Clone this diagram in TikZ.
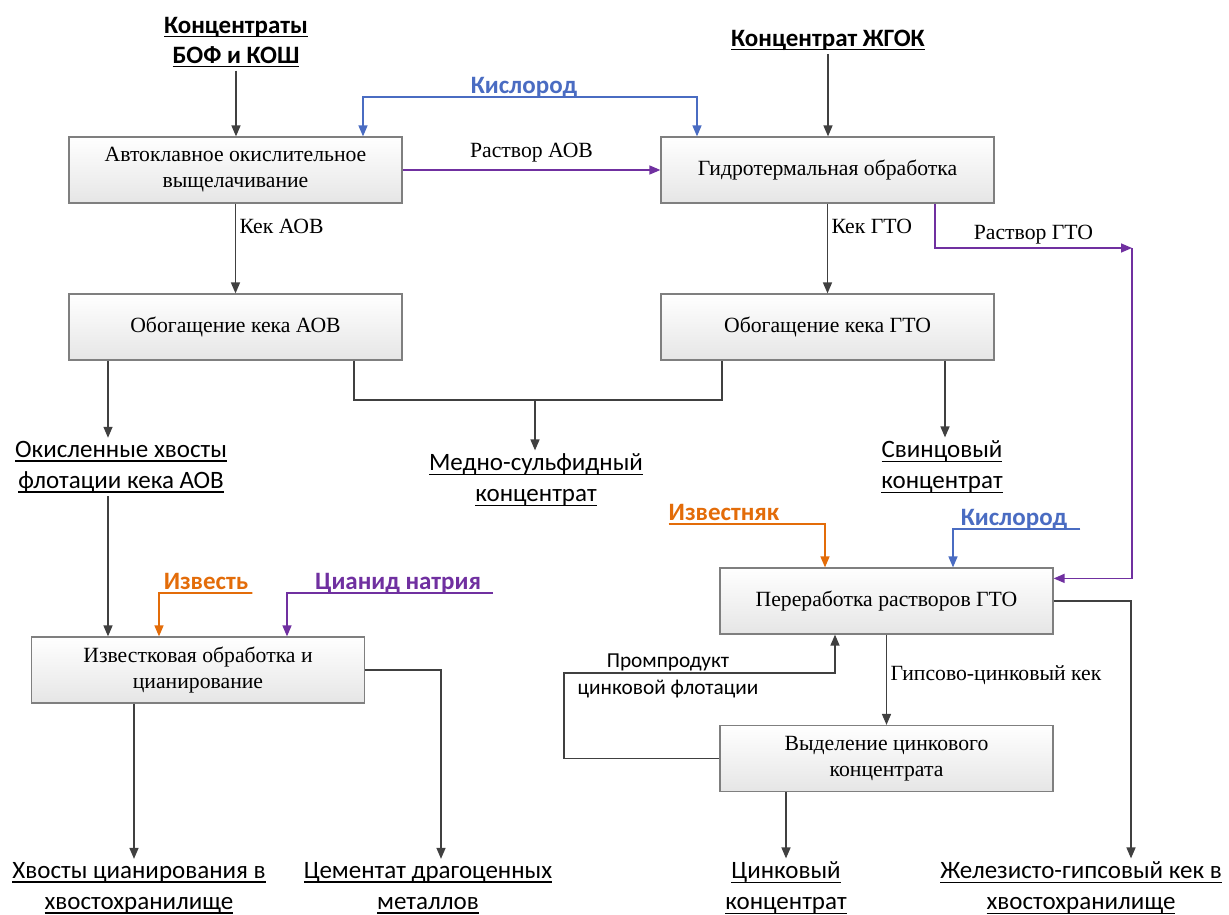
\documentclass[tikz,border=0pt]{standalone}
\usepackage{fontspec}
\setmainfont{Liberation Serif}
\newfontfamily\labfont{Carlito}
\usetikzlibrary{arrows.meta}
\definecolor{linegray}{HTML}{404040}
\definecolor{boxgray}{HTML}{7F7F7F}
\definecolor{oxblue}{HTML}{4A6CC2}
\definecolor{solpurple}{HTML}{7030A0}
\definecolor{limeorange}{HTML}{E36C09}
% underlined label text
\newcommand{\ulbl}[1]{\leavevmode\setbox0\hbox{#1}\rlap{\rule[-4.2pt]{\wd0}{1.5pt}}\box0}
\begin{document}
\begin{tikzpicture}[x=1pt,y=-1pt,
    box/.style={draw=boxgray,line width=1.2pt,top color=white,bottom color=black!10,
      minimum width=333pt,minimum height=66pt,align=center,
      font=\fontsize{21.7}{26}\selectfont},
    flow/.style={draw=linegray,line width=1.5pt,-{Triangle[length=11pt,width=9pt]}},
    outlbl/.style={font=\labfont\fontsize{25}{31}\selectfont,align=center},
    srclbl/.style={font=\labfont\bfseries\fontsize{25}{30}\selectfont,align=center},
    inlbl/.style={font=\labfont\bfseries\fontsize{25}{30}\selectfont,
      inner xsep=0pt,inner ysep=0pt,text depth=3.5pt,anchor=south},
    note/.style={font=\fontsize{21.7}{26}\selectfont},
    smallnote/.style={font=\labfont\fontsize{21.3}{27}\selectfont,align=center}]
  \useasboundingbox (0,0) rectangle (1229,915);
  % process boxes
  \node[box] (aov) at (235.5,170) {Автоклавное окислительное\\выщелачивание};
  \node[box] (gto) at (827.5,170) {Гидротермальная обработка};
  \node[box] (obaov) at (235.5,327) {Обогащение кека АОВ};
  \node[box] (obgto) at (827.5,327) {Обогащение кека ГТО};
  \node[box] (pergto) at (886.5,601) {Переработка растворов ГТО};
  \node[box] (vydzn) at (886.5,758.5) {Выделение цинкового\\концентрата};
  \node[box] (izvcian) at (198,670) {Известковая обработка и\\цианирование};
  % feeds and products
  \node[srclbl] (bof) at (236,42) {\ulbl{Концентраты}\\\ulbl{БОФ и КОШ}};
  \node[srclbl] (zhgok) at (828,40) {\ulbl{Концентрат ЖГОК}};
  \node[outlbl] (okhv) at (121,467) {\ulbl{Окисленные хвосты}\\\ulbl{флотации кека АОВ}};
  \node[outlbl] (medsf) at (536,480) {\ulbl{Медно-сульфидный}\\\ulbl{концентрат}};
  \node[outlbl] (svin) at (942,467) {\ulbl{Свинцовый}\\\ulbl{концентрат}};
  \node[outlbl] (hvcian) at (139,888) {\ulbl{Хвосты цианирования в}\\\ulbl{хвостохранилище}};
  \node[outlbl] (cement) at (428,888) {\ulbl{Цементат драгоценных}\\\ulbl{металлов}};
  \node[outlbl] (cinkk) at (786,888) {\ulbl{Цинковый}\\\ulbl{концентрат}};
  \node[outlbl] (zhelg) at (1081,888) {\ulbl{Железисто-гипсовый кек в}\\\ulbl{хвостохранилище}};
  % reagents
  \node[inlbl,text=oxblue] (kisl) at (524,97) {Кислород};
  \node[inlbl,text=limeorange] (izvst) at (206,593) {Известь};
  \node[inlbl,text=solpurple] (nacn) at (398,593) {Цианид натрия};
  \node[inlbl,text=limeorange] (izvnk) at (724,524) {Известняк};
  \node[inlbl,text=oxblue] (kislb) at (1014,529) {Кислород};
  % main flows
  \draw[flow] (bof.south) -- (bof.south |- aov.north);
  \draw[flow] (zhgok.south) -- (zhgok.south |- gto.north);
  \draw[flow,draw=oxblue] (kisl.south) -| (aov.north -| 363,0);
  \draw[flow,draw=oxblue] (kisl.south) -| (gto.north -| 697,0);
  \draw[flow,draw=solpurple] (aov.east) -- node[note,above=4pt]{Раствор АОВ} (gto.west);
  \draw[flow] (aov.south) -- node[note,right,pos=0.25]{Кек АОВ} (obaov.north);
  \draw[flow] (gto.south) -- node[note,right,pos=0.25]{Кек ГТО} (obgto.north);
  \coordinate (rgto) at (1132,248);
  \draw[flow,draw=solpurple] (gto.south -| 935,0) |- node[note,pos=0.75,above]{Раствор ГТО} (rgto);
  \draw[flow,draw=solpurple] (rgto) |- ([yshift=-11pt]pergto.north east);
  \draw[flow] (obaov.south -| 108,0) -- (okhv.north -| 108,0);
  \coordinate (cujn) at (535,400);
  \draw[linegray,line width=1.5pt] (obaov.south -| 354,0) |- (cujn) -| (obgto.south -| 722,0);
  \draw[flow] (cujn) -- (cujn |- medsf.north);
  \draw[flow] (obgto.south -| 945,0) -- (svin.north -| 945,0);
  % cyanidation
  \draw[flow] (okhv.south -| 108,0) -- (izvcian.north -| 108,0);
  \draw[flow,draw=limeorange] (izvst.south east) -- ++(4,0) -| (izvcian.north -| 159,0);
  \draw[flow,draw=solpurple] ([xshift=12pt]nacn.south east) -| (izvcian.north -| 287,0);
  \draw[flow] (izvcian.south -| 134,0) -- (hvcian.north -| 134,0);
  \draw[flow] (izvcian.east) -| (cement.north -| 441,0);
  % solution treatment
  \draw[flow,draw=limeorange] (izvnk.south west) -| (pergto.north -| 825,0);
  \draw[flow,draw=oxblue] ([xshift=13pt]kislb.south east) -| (pergto.north -| 953,0);
  \draw[flow] (pergto.east) -| (zhelg.north -| 1131,0);
  \draw[flow] (pergto.south) -- node[note,right,pos=0.45]{Гипсово-цинковый кек} (vydzn.north);
  \coordinate (zfl) at (564,673);
  \draw[flow] (vydzn.west) -| (zfl) -| (pergto.south -| 835,0);
  \node[smallnote] (zfllbl) at (668,676) {Промпродукт\\цинковой флотации};
  \draw[flow] (vydzn.south -| 786,0) -- (cinkk.north -| 786,0);
\end{tikzpicture}
\end{document}
